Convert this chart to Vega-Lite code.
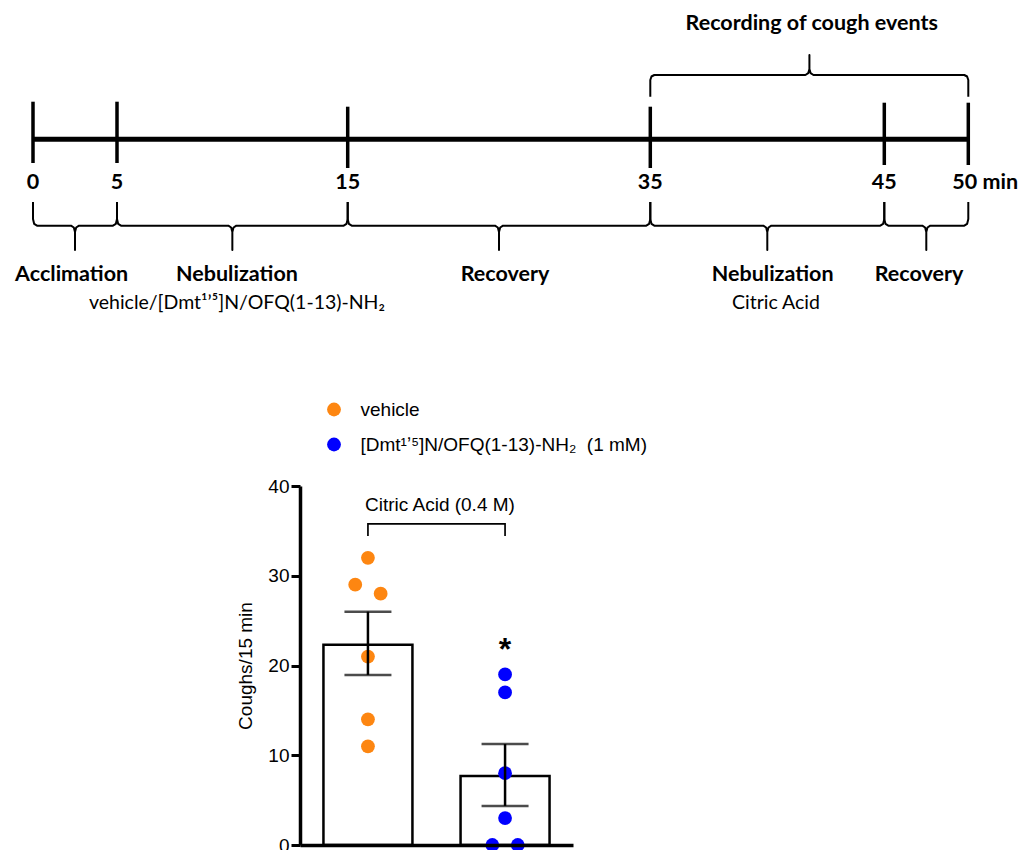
{
  "$schema": "https://vega.github.io/schema/vega-lite/v6.json",
  "background": "white",
  "padding": 0,
  "bounds": "flush",
  "spacing": 0,
  "config": {"view": {"stroke": null}, "axis": {"grid": false}, "font": "Liberation Sans"},
  "datasets": {
    "axisline": [{"from": 0, "to": 50, "v": 0}],
    "ticks": [
      {"t": 0, "top": 3.76, "bot": -2.37, "lab": "0"},
      {"t": 5, "top": 3.76, "bot": -2.37, "lab": "5"},
      {"t": 15, "top": 3.26, "bot": -2.87, "lab": "15"},
      {"t": 35, "top": 3.26, "bot": -2.87, "lab": "35"},
      {"t": 45, "top": 3.66, "bot": -2.57, "lab": "45"},
      {"t": 50, "top": 3.66, "bot": -2.57, "lab": "50 min"}
    ],
    "braces": [
      {"b": "A", "i": 1, "m": 0, "v": -6.27}, {"b": "A", "i": 2, "m": 0, "v": -7.97}, {"b": "A", "i": 3, "m": 0.071, "v": -8.46}, {"b": "A", "i": 4, "m": 0.238, "v": -8.64}, {"b": "A", "i": 5, "m": 2.262, "v": -8.64}, {"b": "A", "i": 6, "m": 2.429, "v": -8.82}, {"b": "A", "i": 7, "m": 2.5, "v": -9.27}, {"b": "A", "i": 8, "m": 2.5, "v": -11.07}, {"b": "A", "i": 9, "m": 2.5, "v": -9.27}, {"b": "A", "i": 10, "m": 2.571, "v": -8.82}, {"b": "A", "i": 11, "m": 2.738, "v": -8.64}, {"b": "A", "i": 12, "m": 4.762, "v": -8.64}, {"b": "A", "i": 13, "m": 4.929, "v": -8.46}, {"b": "A", "i": 14, "m": 5, "v": -7.97}, {"b": "A", "i": 15, "m": 5, "v": -6.27},
      {"b": "B", "i": 1, "m": 5, "v": -6.27}, {"b": "B", "i": 2, "m": 5, "v": -7.97}, {"b": "B", "i": 3, "m": 5.052, "v": -8.46}, {"b": "B", "i": 4, "m": 5.173, "v": -8.64}, {"b": "B", "i": 5, "m": 9.827, "v": -8.64}, {"b": "B", "i": 6, "m": 9.948, "v": -8.82}, {"b": "B", "i": 7, "m": 10, "v": -9.27}, {"b": "B", "i": 8, "m": 10, "v": -11.07}, {"b": "B", "i": 9, "m": 10, "v": -9.27}, {"b": "B", "i": 10, "m": 10.052, "v": -8.82}, {"b": "B", "i": 11, "m": 10.173, "v": -8.64}, {"b": "B", "i": 12, "m": 14.827, "v": -8.64}, {"b": "B", "i": 13, "m": 14.948, "v": -8.46}, {"b": "B", "i": 14, "m": 15, "v": -7.97}, {"b": "B", "i": 15, "m": 15, "v": -6.27},
      {"b": "C", "i": 1, "m": 15, "v": -6.27}, {"b": "C", "i": 2, "m": 15, "v": -7.97}, {"b": "C", "i": 3, "m": 15.079, "v": -8.46}, {"b": "C", "i": 4, "m": 15.264, "v": -8.64}, {"b": "C", "i": 5, "m": 24.736, "v": -8.64}, {"b": "C", "i": 6, "m": 24.921, "v": -8.82}, {"b": "C", "i": 7, "m": 25, "v": -9.27}, {"b": "C", "i": 8, "m": 25, "v": -11.07}, {"b": "C", "i": 9, "m": 25, "v": -9.27}, {"b": "C", "i": 10, "m": 25.079, "v": -8.82}, {"b": "C", "i": 11, "m": 25.264, "v": -8.64}, {"b": "C", "i": 12, "m": 34.736, "v": -8.64}, {"b": "C", "i": 13, "m": 34.921, "v": -8.46}, {"b": "C", "i": 14, "m": 35, "v": -7.97}, {"b": "C", "i": 15, "m": 35, "v": -6.27},
      {"b": "D", "i": 1, "m": 35, "v": -6.27}, {"b": "D", "i": 2, "m": 35, "v": -7.97}, {"b": "D", "i": 3, "m": 35.051, "v": -8.46}, {"b": "D", "i": 4, "m": 35.171, "v": -8.64}, {"b": "D", "i": 5, "m": 39.829, "v": -8.64}, {"b": "D", "i": 6, "m": 39.949, "v": -8.82}, {"b": "D", "i": 7, "m": 40, "v": -9.27}, {"b": "D", "i": 8, "m": 40, "v": -11.07}, {"b": "D", "i": 9, "m": 40, "v": -9.27}, {"b": "D", "i": 10, "m": 40.051, "v": -8.82}, {"b": "D", "i": 11, "m": 40.171, "v": -8.64}, {"b": "D", "i": 12, "m": 44.829, "v": -8.64}, {"b": "D", "i": 13, "m": 44.949, "v": -8.46}, {"b": "D", "i": 14, "m": 45, "v": -7.97}, {"b": "D", "i": 15, "m": 45, "v": -6.27},
      {"b": "E", "i": 1, "m": 45, "v": -6.27}, {"b": "E", "i": 2, "m": 45, "v": -7.97}, {"b": "E", "i": 3, "m": 45.071, "v": -8.46}, {"b": "E", "i": 4, "m": 45.238, "v": -8.64}, {"b": "E", "i": 5, "m": 47.262, "v": -8.64}, {"b": "E", "i": 6, "m": 47.429, "v": -8.82}, {"b": "E", "i": 7, "m": 47.5, "v": -9.27}, {"b": "E", "i": 8, "m": 47.5, "v": -11.07}, {"b": "E", "i": 9, "m": 47.5, "v": -9.27}, {"b": "E", "i": 10, "m": 47.571, "v": -8.82}, {"b": "E", "i": 11, "m": 47.738, "v": -8.64}, {"b": "E", "i": 12, "m": 49.762, "v": -8.64}, {"b": "E", "i": 13, "m": 49.929, "v": -8.46}, {"b": "E", "i": 14, "m": 50, "v": -7.97}, {"b": "E", "i": 15, "m": 50, "v": -6.27},
      {"b": "T", "i": 1, "m": 35, "v": 4.26}, {"b": "T", "i": 2, "m": 35, "v": 5.93}, {"b": "T", "i": 3, "m": 35.05, "v": 6.28}, {"b": "T", "i": 4, "m": 35.171, "v": 6.43}, {"b": "T", "i": 5, "m": 41.629, "v": 6.43}, {"b": "T", "i": 6, "m": 41.749, "v": 6.61}, {"b": "T", "i": 7, "m": 41.8, "v": 7.03}, {"b": "T", "i": 8, "m": 41.8, "v": 8.43}, {"b": "T", "i": 9, "m": 41.8, "v": 7.03}, {"b": "T", "i": 10, "m": 41.851, "v": 6.61}, {"b": "T", "i": 11, "m": 41.971, "v": 6.43}, {"b": "T", "i": 12, "m": 49.762, "v": 6.43}, {"b": "T", "i": 13, "m": 49.929, "v": 6.28}, {"b": "T", "i": 14, "m": 50, "v": 5.93}, {"b": "T", "i": 15, "m": 50, "v": 4.26}
    ],
    "phases": [
      {"m": 2.3, "v": -13.57, "txt": "Acclimation", "kind": "bold"},
      {"m": 10.2, "v": -13.57, "txt": "Nebulization", "kind": "bold"},
      {"m": 25.4, "v": -13.57, "txt": "Recovery", "kind": "bold"},
      {"m": 40.23, "v": -13.57, "txt": "Nebulization", "kind": "bold"},
      {"m": 47.07, "v": -13.57, "txt": "Recovery", "kind": "bold"},
      {"m": 41.9, "v": 11.53, "txt": "Recording of cough events", "kind": "bold"},
      {"m": 10.2, "v": -16.37, "txt": "vehicle/[Dmt\u00b9\u02bc\u2075]N/OFQ(1-13)-NH\u2082", "kind": "sub"},
      {"m": 40.37, "v": -16.37, "txt": "Citric Acid", "kind": "sub"}
    ],
    "bars": [
      {"g": "vehicle", "mean": 22.3, "lo": 18.95, "hi": 26.0},
      {"g": "[Dmt\u00b9\u02bc\u2075]N/OFQ(1-13)-NH\u2082\u00a0 (1 mM)", "mean": 7.7, "lo": 4.35, "hi": 11.25}
    ],
    "pts": [
      {"g": "vehicle", "val": 32, "slot": "c"},
      {"g": "vehicle", "val": 29, "slot": "l"},
      {"g": "vehicle", "val": 28, "slot": "r"},
      {"g": "vehicle", "val": 21, "slot": "c"},
      {"g": "vehicle", "val": 14, "slot": "c"},
      {"g": "vehicle", "val": 11, "slot": "c"},
      {"g": "[Dmt\u00b9\u02bc\u2075]N/OFQ(1-13)-NH\u2082\u00a0 (1 mM)", "val": 19, "slot": "c"},
      {"g": "[Dmt\u00b9\u02bc\u2075]N/OFQ(1-13)-NH\u2082\u00a0 (1 mM)", "val": 17, "slot": "c"},
      {"g": "[Dmt\u00b9\u02bc\u2075]N/OFQ(1-13)-NH\u2082\u00a0 (1 mM)", "val": 8, "slot": "c"},
      {"g": "[Dmt\u00b9\u02bc\u2075]N/OFQ(1-13)-NH\u2082\u00a0 (1 mM)", "val": 3, "slot": "c"},
      {"g": "[Dmt\u00b9\u02bc\u2075]N/OFQ(1-13)-NH\u2082\u00a0 (1 mM)", "val": 0, "slot": "l"},
      {"g": "[Dmt\u00b9\u02bc\u2075]N/OFQ(1-13)-NH\u2082\u00a0 (1 mM)", "val": 0, "slot": "r"}
    ],
    "bracket": [
      {"g": "vehicle", "v": 34.43, "i": 1},
      {"g": "vehicle", "v": 35.77, "i": 2},
      {"g": "[Dmt\u00b9\u02bc\u2075]N/OFQ(1-13)-NH\u2082\u00a0 (1 mM)", "v": 35.77, "i": 3},
      {"g": "[Dmt\u00b9\u02bc\u2075]N/OFQ(1-13)-NH\u2082\u00a0 (1 mM)", "v": 34.43, "i": 4}
    ],
    "notes": [
      {"g": "vehicle", "v": 37.88, "txt": "Citric Acid (0.4 M)", "kind": "bracket"},
      {"g": "[Dmt\u00b9\u02bc\u2075]N/OFQ(1-13)-NH\u2082\u00a0 (1 mM)", "v": 20.6, "txt": "*", "kind": "star"}
    ]
  },
  "vconcat": [
    {
      "width": 1031,
      "height": 486,
      "layer": [
        {
          "data": {"name": "axisline"},
          "mark": {"type": "rule", "color": "black", "strokeWidth": 5},
          "encoding": {
            "x": {"field": "from", "type": "quantitative", "scale": {"domain": [0, 5, 15, 35, 45, 50], "range": [32, 116, 346.7, 649.3, 883.3, 967.3], "nice": false, "zero": false}, "axis": null},
            "x2": {"field": "to"},
            "y": {"field": "v", "type": "quantitative", "scale": {"domain": [-34.67, 13.93], "nice": false, "zero": false}, "axis": null}
          }
        },
        {
          "data": {"name": "ticks"},
          "mark": {"type": "rule", "color": "black", "strokeWidth": 3.5},
          "encoding": {
            "x": {"field": "t", "type": "quantitative", "scale": {"domain": [0, 5, 15, 35, 45, 50], "range": [32, 116, 346.7, 649.3, 883.3, 967.3], "nice": false, "zero": false}, "axis": null},
            "y": {"field": "top", "type": "quantitative", "scale": {"domain": [-34.67, 13.93], "nice": false, "zero": false}, "axis": null},
            "y2": {"field": "bot"}
          }
        },
        {
          "data": {"name": "ticks"},
          "transform": [{"filter": "datum.t < 50"}],
          "mark": {"type": "text", "font": "Lato", "fontWeight": "bold", "fontSize": 21.5, "align": "center", "baseline": "middle", "color": "black"},
          "encoding": {
            "x": {"field": "t", "type": "quantitative", "scale": {"domain": [0, 5, 15, 35, 45, 50], "range": [32, 116, 346.7, 649.3, 883.3, 967.3], "nice": false, "zero": false}, "axis": null},
            "y": {"datum": -4.37, "type": "quantitative", "scale": {"domain": [-34.67, 13.93], "nice": false, "zero": false}, "axis": null},
            "text": {"field": "lab"}
          }
        },
        {
          "data": {"name": "ticks"},
          "transform": [{"filter": "datum.t == 50"}],
          "mark": {"type": "text", "font": "Lato", "fontWeight": "bold", "fontSize": 21.5, "align": "left", "baseline": "middle", "dx": -16, "color": "black"},
          "encoding": {
            "x": {"field": "t", "type": "quantitative", "scale": {"domain": [0, 5, 15, 35, 45, 50], "range": [32, 116, 346.7, 649.3, 883.3, 967.3], "nice": false, "zero": false}, "axis": null},
            "y": {"datum": -4.37, "type": "quantitative", "scale": {"domain": [-34.67, 13.93], "nice": false, "zero": false}, "axis": null},
            "text": {"field": "lab"}
          }
        },
        {
          "data": {"name": "braces"},
          "mark": {"type": "line", "color": "black", "strokeWidth": 2, "strokeJoin": "round"},
          "encoding": {
            "x": {"field": "m", "type": "quantitative", "scale": {"domain": [0, 5, 15, 35, 45, 50], "range": [32, 116, 346.7, 649.3, 883.3, 967.3], "nice": false, "zero": false}, "axis": null},
            "y": {"field": "v", "type": "quantitative", "scale": {"domain": [-34.67, 13.93], "nice": false, "zero": false}, "axis": null},
            "detail": {"field": "b", "type": "nominal"},
            "order": {"field": "i", "type": "quantitative"}
          }
        },
        {
          "data": {"name": "phases"},
          "transform": [{"filter": "datum.kind == 'bold'"}],
          "mark": {"type": "text", "font": "Lato", "fontWeight": "bold", "fontSize": 21.5, "align": "center", "baseline": "middle", "color": "black"},
          "encoding": {
            "x": {"field": "m", "type": "quantitative", "scale": {"domain": [0, 5, 15, 35, 45, 50], "range": [32, 116, 346.7, 649.3, 883.3, 967.3], "nice": false, "zero": false}, "axis": null},
            "y": {"field": "v", "type": "quantitative", "scale": {"domain": [-34.67, 13.93], "nice": false, "zero": false}, "axis": null},
            "text": {"field": "txt"}
          }
        },
        {
          "data": {"name": "phases"},
          "transform": [{"filter": "datum.kind == 'sub'"}],
          "mark": {"type": "text", "font": "Lato", "fontSize": 19.5, "align": "center", "baseline": "middle", "color": "black"},
          "encoding": {
            "x": {"field": "m", "type": "quantitative", "scale": {"domain": [0, 5, 15, 35, 45, 50], "range": [32, 116, 346.7, 649.3, 883.3, 967.3], "nice": false, "zero": false}, "axis": null},
            "y": {"field": "v", "type": "quantitative", "scale": {"domain": [-34.67, 13.93], "nice": false, "zero": false}, "axis": null},
            "text": {"field": "txt"}
          }
        }
      ]
    },
    {
      "bounds": "flush",
      "spacing": 0,
      "hconcat": [
        {
          "width": 299,
          "height": 10,
          "data": {"values": [{"a": 0}]},
          "mark": {"type": "rule", "opacity": 0},
          "encoding": {}
        },
        {
          "width": 273,
          "height": 359,
          "resolve": {"scale": {"xOffset": "independent"}},
          "layer": [
            {
              "data": {"name": "bars"},
              "mark": {"type": "bar", "fill": "white", "stroke": "black", "strokeWidth": 2.5},
              "encoding": {
                "x": {"field": "g", "type": "nominal", "sort": null, "scale": {"domain": ["vehicle", "[Dmt\u00b9\u02bc\u2075]N/OFQ(1-13)-NH\u2082\u00a0 (1 mM)"], "paddingInner": 0.351, "paddingOuter": 0.171}, "axis": {"title": null, "labels": false, "ticks": false, "domainWidth": 3.5, "domainColor": "black", "zindex": 1}},
                "y": {"field": "mean", "type": "quantitative", "scale": {"domain": [0, 40], "nice": false}, "axis": {"title": "Coughs/15 min", "values": [0, 10, 20, 30, 40], "tickSize": 9, "tickWidth": 3, "tickColor": "black", "domainWidth": 3.5, "domainColor": "black", "labelFontSize": 19, "labelColor": "black", "labelPadding": 2, "titleFontSize": 19, "titleFontWeight": "normal", "titleColor": "black", "titlePadding": 12, "zindex": 1}}
              }
            },
            {
              "data": {"name": "pts"},
              "mark": {"type": "point", "filled": true, "size": 190, "opacity": 1},
              "encoding": {
                "x": {"field": "g", "type": "nominal", "sort": null},
                "xOffset": {"field": "slot", "type": "nominal", "scale": {"domain": ["l3", "l2", "l", "c", "r", "r2", "r3"]}},
                "y": {"field": "val", "type": "quantitative"},
                "color": {"field": "g", "type": "nominal", "scale": {"domain": ["vehicle", "[Dmt\u00b9\u02bc\u2075]N/OFQ(1-13)-NH\u2082\u00a0 (1 mM)"], "range": ["#fd8611", "#0000ff"]}, "legend": {"orient": "none", "legendX": 323.5, "legendY": 400, "title": null, "labelFontSize": 19, "labelFont": "Liberation Sans", "labelColor": "black", "symbolSize": 190, "symbolType": "circle", "symbolStrokeWidth": 0, "rowPadding": 15, "labelOffset": 17, "padding": 0, "labelLimit": 0}}
              }
            },
            {
              "data": {"name": "bars"},
              "mark": {"type": "rule", "color": "black", "strokeWidth": 2.5},
              "encoding": {
                "x": {"field": "g", "type": "nominal", "sort": null},
                "y": {"field": "lo", "type": "quantitative"},
                "y2": {"field": "hi"}
              }
            },
            {
              "data": {"name": "bars"},
              "mark": {"type": "tick", "color": "black", "size": 47, "thickness": 2.5, "orient": "horizontal"},
              "encoding": {
                "x": {"field": "g", "type": "nominal", "sort": null},
                "y": {"field": "lo", "type": "quantitative"}
              }
            },
            {
              "data": {"name": "bars"},
              "mark": {"type": "tick", "color": "black", "size": 47, "thickness": 2.5, "orient": "horizontal"},
              "encoding": {
                "x": {"field": "g", "type": "nominal", "sort": null},
                "y": {"field": "hi", "type": "quantitative"}
              }
            },
            {
              "data": {"name": "bracket"},
              "mark": {"type": "line", "color": "black", "strokeWidth": 1.7},
              "encoding": {
                "x": {"field": "g", "type": "nominal", "sort": null},
                "y": {"field": "v", "type": "quantitative"},
                "order": {"field": "i", "type": "quantitative"}
              }
            },
            {
              "data": {"name": "notes"},
              "transform": [{"filter": "datum.kind == 'bracket'"}],
              "mark": {"type": "text", "fontSize": 19, "align": "center", "baseline": "middle", "dx": 72, "color": "black"},
              "encoding": {
                "x": {"field": "g", "type": "nominal", "sort": null},
                "y": {"field": "v", "type": "quantitative"},
                "text": {"field": "txt"}
              }
            },
            {
              "data": {"name": "notes"},
              "transform": [{"filter": "datum.kind == 'star'"}],
              "mark": {"type": "text", "fontSize": 32, "fontWeight": "bold", "align": "center", "baseline": "alphabetic", "color": "black"},
              "encoding": {
                "x": {"field": "g", "type": "nominal", "sort": null},
                "y": {"field": "v", "type": "quantitative"},
                "text": {"field": "txt"}
              }
            }
          ]
        }
      ]
    }
  ]
}
